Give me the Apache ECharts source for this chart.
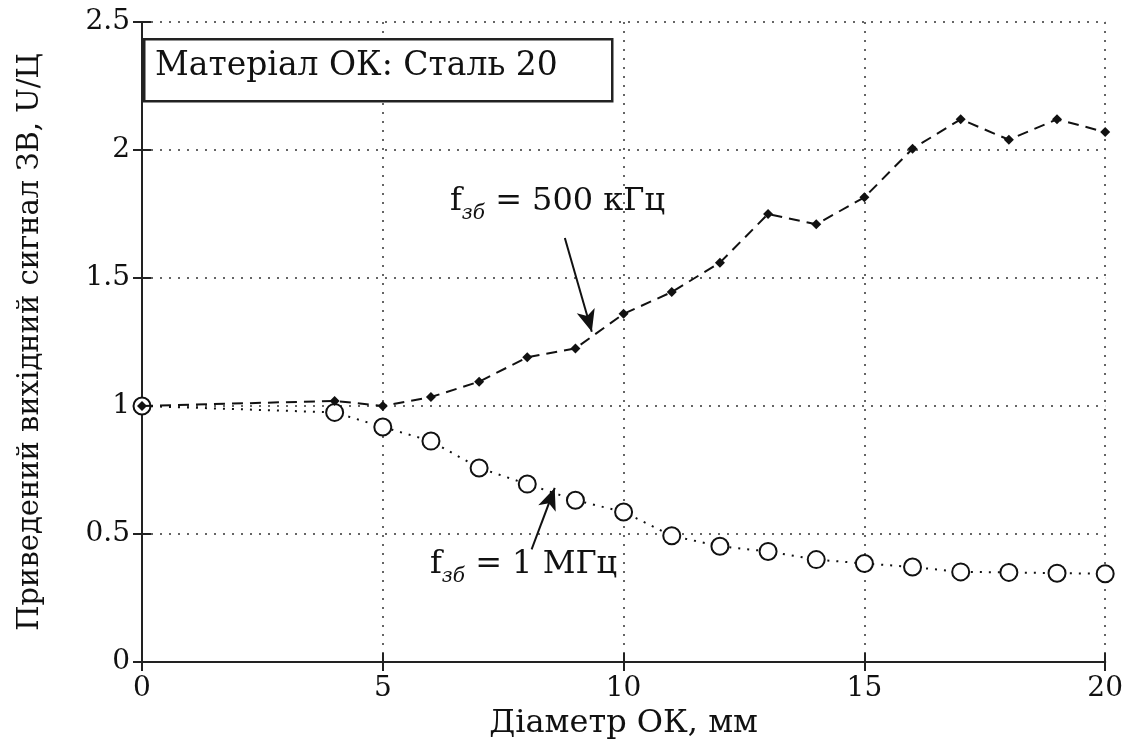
<!DOCTYPE html>
<html>
<head>
<meta charset="utf-8">
<script src="https://cdn.jsdelivr.net/npm/echarts@6/dist/echarts.min.js"></script>
<style>
  html, body { margin: 0; padding: 0; background: #fff; }
  #chart { width: 1126px; height: 747px; }
</style>
</head>
<body>
<div id="chart"></div>
<script>
// діаметр ОК, мм
var diam = [0, 4, 5, 6, 7, 8, 9, 10, 11, 12, 13, 14, 15, 16, 17, 18, 19, 20]
// f = 500 кГц
var sig500k = [1.0, 1.02, 1.0, 1.035, 1.095, 1.19, 1.225, 1.36, 1.445, 1.56, 1.75, 1.71, 1.815, 2.005, 2.12, 2.04, 2.12, 2.07]
// f = 1 МГц
var sig1m = [1.0, 0.975, 0.918, 0.863, 0.758, 0.695, 0.632, 0.586, 0.493, 0.452, 0.432, 0.40, 0.385, 0.371, 0.352, 0.350, 0.347, 0.345]
var xTicks = [0, 5, 10, 15, 20]
var yTicks = [0, 0.5, 1, 1.5, 2, 2.5]

var serif = '"DejaVu Serif", "Liberation Serif", serif'

function pairs (xs, ys) {
  return xs.map(function (x, i) { return [x, ys[i]] })
}

var myChart = echarts.init(document.getElementById('chart'))

var axisCommon = {
  type: 'value',
  axisLine: { show: true, lineStyle: { color: '#222', width: 2 } },
  axisTick: { show: true, inside: true, length: 9, lineStyle: { color: '#222', width: 2 } }
}

var subRich = {
  f: { fontFamily: serif, fontSize: 32, fill: '#111' },
  s: { fontFamily: serif, fontSize: 20, fontStyle: 'italic', fill: '#111', padding: [24, 0, 0, 0] },
  t: { fontFamily: serif, fontSize: 32, fill: '#111' }
}

var option = {
  animation: false,
  backgroundColor: '#fff',
  grid: {
    left: 142,
    right: 19,
    top: 22,
    bottom: 85
  },
  xAxis: [
    Object.assign({}, axisCommon, {
      min: 0,
      max: 20,
      interval: 5,
      position: 'bottom',
      axisLabel: { color: '#111', fontFamily: serif, fontSize: 28, margin: 13 },
      splitLine: { show: true, lineStyle: { color: '#333', type: [2, 7], width: 1.5 } },
      name: 'Діаметр ОК, мм',
      nameLocation: 'middle',
      nameGap: 46,
      nameTextStyle: { color: '#111', fontFamily: serif, fontSize: 32 }
    }),
    Object.assign({}, axisCommon, {
      min: 0,
      max: 20,
      interval: 5,
      position: 'top',
      axisLabel: { show: false },
      splitLine: { show: false }
    })
  ],
  yAxis: [
    Object.assign({}, axisCommon, {
      min: 0,
      max: 2.5,
      interval: 0.5,
      position: 'left',
      axisLabel: { color: '#111', fontFamily: serif, fontSize: 28, margin: 12 },
      splitLine: { show: true, lineStyle: { color: '#333', type: [2, 7], width: 1.5 } },
      name: 'Приведений вихідний сигнал ЗВ, U/Ц',
      nameLocation: 'middle',
      nameGap: 97,
      nameTextStyle: { color: '#111', fontFamily: serif, fontSize: 29 }
    }),
    Object.assign({}, axisCommon, {
      min: 0,
      max: 2.5,
      interval: 0.5,
      position: 'right',
      axisLabel: { show: false },
      splitLine: { show: false }
    })
  ],
  graphic: [
    {
      type: 'rect',
      left: 143,
      top: 38,
      shape: { width: 468, height: 62 },
      style: { fill: '#fff', stroke: '#222', lineWidth: 2.5 },
      z: 100
    },
    {
      type: 'text',
      left: 155,
      top: 50,
      style: { text: 'Матеріал ОК: Сталь 20', fill: '#111', font: '33px ' + serif },
      z: 101
    },
    {
      type: 'text',
      left: 450,
      top: 186,
      style: { text: '{f|f}{s|зб}{t| = 500 кГц}', rich: subRich },
      z: 101
    },
    {
      type: 'text',
      left: 430,
      top: 549,
      style: { text: '{f|f}{s|зб}{t| = 1 МГц}', rich: subRich },
      z: 101
    }
  ],
  series: [
    {
      name: 'f = 500 кГц',
      type: 'line',
      data: pairs(diam, sig500k),
      symbol: 'diamond',
      symbolSize: 10,
      itemStyle: { color: '#111' },
      lineStyle: { color: '#111', width: 2, type: [11, 7] },
      z: 3,
      markLine: {
        silent: true,
        symbol: ['none', 'arrow'],
        symbolSize: [14, 22],
        label: { show: false },
        lineStyle: { color: '#111', width: 2, type: 'solid' },
        data: [
          [{ coord: [8.78, 1.656] }, { coord: [9.34, 1.29] }],
          [{ coord: [8.09, 0.44] }, { coord: [8.57, 0.68] }]
        ]
      }
    },
    {
      name: 'f = 1 МГц',
      type: 'line',
      data: pairs(diam, sig1m),
      symbol: 'emptyCircle',
      symbolSize: 17,
      itemStyle: { color: '#111', borderWidth: 2 },
      lineStyle: { color: '#111', width: 2, type: [2, 7] },
      z: 2
    }
  ]
}

myChart.setOption(option)
</script>
</body>
</html>
